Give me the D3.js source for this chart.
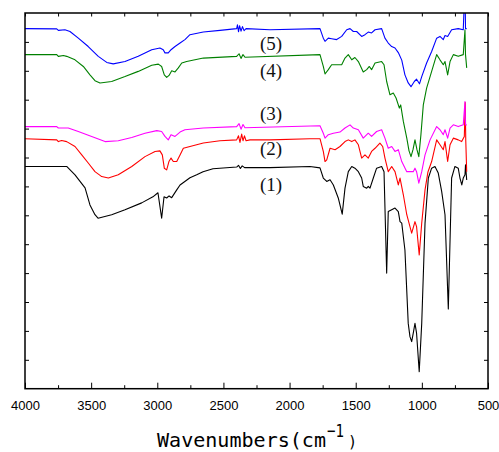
<!DOCTYPE html>
<html>
<head>
<meta charset="utf-8">
<script src="https://cdn.jsdelivr.net/npm/d3@7"></script>
<style>
  html, body { margin: 0; padding: 0; background: #fff; }
  svg { display: block; }
</style>
</head>
<body>
<svg id="chart" width="499" height="452"></svg>
<script>
// FTIR spectra: [wavenumber (cm-1), transmittance (a.u., offset per sample)]
const spectrum1 = [
  [4000,76.9],[3685,76.9],[3622,74.0],[3546,69.5],[3509,63.6],[3471,60.2],[3448,59.0],
  [3345,60.2],[3244,61.9],[3118,64.3],[3033,66.4],[2995,67.8],[2967,59.0],[2949,66.4],
  [2929,66.0],[2911,66.7],[2891,66.1],[2853,68.8],[2828,70.5],[2753,73.0],[2702,74.0],
  [2654,75.1],[2579,76.1],[2400,76.7],[2386,77.3],[2372,76.2],[2358,77.1],[2340,76.5],
  [2148,76.5],[1846,76.9],[1770,76.4],[1745,72.9],[1719,71.7],[1694,72.3],[1669,70.5],
  [1632,66.0],[1602,60.4],[1581,69.4],[1556,75.1],[1530,76.9],[1506,76.3],[1480,75.1],
  [1455,72.9],[1443,70.0],[1417,69.4],[1405,70.0],[1392,69.4],[1367,72.9],[1342,76.3],
  [1304,76.9],[1286,75.1],[1266,40.0],[1254,61.3],[1228,61.9],[1203,62.5],[1178,61.3],
  [1165,57.8],[1152,57.3],[1128,48.0],[1103,22.6],[1090,18.0],[1077,16.3],[1065,19.2],
  [1052,22.6],[1040,19.2],[1020,5.9],[1001,22.6],[976,57.3],[951,72.9],[926,76.3],
  [901,76.9],[876,74.6],[850,68.2],[825,60.2],[800,27.6],[775,72.9],[750,76.9],
  [725,76.3],[712,72.9],[698,70.5],[687,72.9],[674,74.0],[670,77.5],[661,72.2]
];
const spectrum2 = [
  [4000,86.5],[3760,86.1],[3748,85.5],[3723,85.9],[3685,85.5],[3622,83.8],[3571,80.9],
  [3522,78.1],[3471,75.1],[3420,73.4],[3370,72.9],[3295,74.0],[3193,76.9],[3093,80.3],
  [3017,82.1],[2980,82.3],[2962,80.9],[2947,76.3],[2929,75.7],[2912,78.6],[2896,79.8],
  [2879,78.6],[2853,78.6],[2828,80.9],[2803,83.2],[2753,83.8],[2652,85.0],[2526,85.8],
  [2400,86.1],[2386,87.5],[2375,85.2],[2362,88.1],[2352,85.8],[2341,87.5],[2329,85.8],
  [2299,86.1],[2148,86.1],[1846,86.5],[1770,86.5],[1745,82.1],[1732,78.6],[1719,79.2],
  [1694,83.2],[1656,82.7],[1619,83.8],[1581,85.5],[1556,86.1],[1530,85.5],[1506,86.1],
  [1480,84.4],[1455,79.8],[1430,80.9],[1405,79.8],[1380,82.1],[1354,83.2],[1317,85.0],
  [1296,83.8],[1279,79.8],[1254,75.1],[1228,76.9],[1203,75.1],[1178,70.5],[1165,72.9],
  [1140,67.1],[1114,60.2],[1077,53.8],[1052,57.8],[1040,56.1],[1020,46.3],[1001,57.3],
  [976,68.8],[954,75.0],[926,78.6],[888,86.1],[863,84.4],[838,82.7],[825,85.5],
  [805,78.6],[787,84.4],[762,86.7],[725,86.1],[699,85.5],[679,87.3],[672,99.0],
  [668,85.8],[661,75.1]
];
const spectrum3 = [
  [4000,90.7],[3760,90.7],[3748,90.2],[3673,90.2],[3597,89.0],[3496,87.3],[3395,85.5],
  [3295,85.8],[3193,86.9],[3093,88.4],[3004,89.3],[2967,89.0],[2942,87.3],[2917,86.1],
  [2896,87.9],[2866,87.3],[2828,88.8],[2791,89.6],[2652,90.2],[2400,90.7],[2382,91.7],
  [2367,89.8],[2352,91.4],[2337,90.3],[1770,91.0],[1745,88.4],[1732,86.7],[1707,87.9],
  [1669,88.4],[1619,88.8],[1581,90.2],[1543,91.3],[1518,90.2],[1480,89.6],[1443,86.7],
  [1405,88.4],[1380,87.3],[1342,89.0],[1304,89.6],[1279,86.7],[1254,83.2],[1228,83.8],
  [1203,82.1],[1178,82.7],[1152,78.6],[1114,75.1],[1090,75.1],[1065,75.1],[1052,76.3],
  [1040,75.1],[1023,71.1],[1001,75.1],[976,80.9],[938,86.1],[888,90.7],[863,89.6],
  [838,87.9],[825,89.6],[805,86.7],[787,90.2],[762,91.3],[725,90.7],[687,91.3],
  [674,99.4],[670,91.3],[661,91.3]
];
const spectrum4 = [
  [4000,115.6],[3760,115.6],[3748,115.0],[3710,115.3],[3685,115.0],[3622,113.8],[3559,111.5],
  [3509,108.6],[3471,106.6],[3433,105.8],[3345,106.3],[3244,108.0],[3144,109.8],[3042,111.9],
  [2992,112.3],[2967,111.5],[2947,108.6],[2929,107.7],[2911,108.4],[2891,110.0],[2866,109.6],
  [2841,111.0],[2815,112.7],[2778,113.2],[2652,114.4],[2400,115.0],[2382,115.9],[2367,114.3],
  [2352,115.6],[2337,114.7],[1770,115.6],[1745,111.5],[1732,108.9],[1707,110.4],[1682,112.1],
  [1606,112.1],[1581,114.4],[1556,115.6],[1530,113.8],[1506,114.6],[1480,113.2],[1443,109.6],
  [1417,110.4],[1397,111.5],[1380,110.4],[1354,112.7],[1304,113.2],[1286,112.1],[1266,106.3],
  [1241,101.7],[1216,102.3],[1195,100.6],[1170,97.1],[1160,98.2],[1140,92.5],[1114,86.7],
  [1097,82.3],[1082,80.3],[1067,82.7],[1052,86.1],[1037,82.7],[1023,80.3],[1007,87.9],
  [989,98.2],[964,104.0],[926,109.8],[888,115.6],[863,113.8],[838,112.1],[825,113.2],
  [805,108.6],[787,113.2],[762,115.6],[725,115.0],[687,115.6],[674,124.2],[670,115.6],
  [661,111.0]
];
const spectrum5 = [
  [4000,124.6],[3760,124.5],[3748,124.0],[3698,124.2],[3660,123.6],[3597,121.3],[3522,118.4],
  [3446,115.0],[3382,112.9],[3333,112.4],[3244,113.2],[3144,115.0],[3042,117.3],[2980,117.9],
  [2955,117.3],[2942,116.2],[2917,116.2],[2896,117.3],[2866,118.4],[2828,119.6],[2791,120.8],
  [2753,122.5],[2652,123.4],[2526,124.0],[2400,124.6],[2394,125.9],[2386,123.5],[2378,125.6],
  [2367,123.7],[2356,125.3],[2344,123.9],[2329,124.6],[2148,124.2],[1770,124.6],[1745,121.3],
  [1732,120.2],[1707,121.3],[1682,121.1],[1644,120.8],[1606,121.9],[1568,124.2],[1543,124.6],
  [1518,123.6],[1493,123.6],[1455,121.9],[1430,122.5],[1405,123.4],[1380,123.1],[1354,124.2],
  [1304,124.6],[1279,121.3],[1254,119.6],[1228,118.4],[1203,117.9],[1178,116.3],[1152,113.7],
  [1128,108.6],[1103,105.8],[1082,104.5],[1057,106.3],[1040,107.1],[1018,105.5],[1001,108.0],
  [964,112.7],[926,116.7],[888,121.3],[863,121.9],[838,120.8],[825,122.2],[805,121.9],
  [775,124.2],[725,124.6],[687,124.2],[674,140.0],[670,124.6],[661,124.6]
];

const sampleLabels = ["(1)", "(2)", "(3)", "(4)", "(5)"];
const sampleColors = ["#000000", "#ff0000", "#ff00ff", "#008000", "#0000ff"];
const labelLevels = [68.5, 80.9, 93.0, 107.9, 117.3];
const labelWavenumber = 2140;

const xMajorTicks = [4000, 3500, 3000, 2500, 2000, 1500, 1000, 500];
const xMinorTicks = [3750, 3250, 2750, 2250, 1750, 1250, 750];
const yTicks = [10, 20, 30, 40, 50, 60, 70, 80, 90, 100, 110, 120];

const spectra = [spectrum1, spectrum2, spectrum3, spectrum4, spectrum5];

const svg = d3.select("#chart");
const plotLeft = 25, plotRight = 488, plotTop = 13, plotBottom = 388.7;

const x = d3.scaleLinear().domain([4000, 500]).range([plotLeft, plotRight]);
const y = d3.scaleLinear().domain([0, 130]).range([plotBottom, plotTop]);

svg.append("defs").append("clipPath").attr("id", "plotClip")
  .append("rect").attr("x", plotLeft).attr("y", plotTop)
  .attr("width", plotRight - plotLeft).attr("height", plotBottom - plotTop);

// spectra
const line = d3.line().x(d => x(d[0])).y(d => y(d[1]));
const plot = svg.append("g").attr("clip-path", "url(#plotClip)");
spectra.forEach((s, i) => {
  plot.append("path")
    .datum(s)
    .attr("fill", "none")
    .attr("stroke", sampleColors[i])
    .attr("stroke-width", 1.1)
    .attr("stroke-linejoin", "round")
    .attr("d", line);
});

// sample labels
sampleLabels.forEach((t, i) => {
  svg.append("text")
    .attr("x", x(labelWavenumber))
    .attr("y", y(labelLevels[i]))
    .attr("text-anchor", "middle")
    .attr("font-family", "'Liberation Serif', 'Times New Roman', serif")
    .attr("font-size", 19)
    .attr("fill", "#111")
    .text(t);
});

// axes (ticks point inward)
const axisStyle = g => {
  g.select(".domain").remove();
  g.selectAll(".tick line").attr("stroke", "#000").attr("stroke-width", 1);
};
svg.append("g").attr("transform", `translate(0,${plotBottom})`)
  .call(d3.axisBottom(x).tickValues(xMajorTicks).tickSize(-6).tickPadding(12)
    .tickFormat(d3.format("d")))
  .call(axisStyle)
  .call(g => g.selectAll("text")
    .attr("font-family", "'Liberation Sans', Arial, sans-serif")
    .attr("font-size", 13).attr("fill", "#000"));
svg.append("g").attr("transform", `translate(0,${plotBottom})`)
  .call(d3.axisBottom(x).tickValues(xMinorTicks).tickSize(-3.5).tickFormat(""))
  .call(axisStyle);
svg.append("g").attr("transform", `translate(0,${plotTop})`)
  .call(d3.axisTop(x).tickValues(xMajorTicks.concat(xMinorTicks)).tickSize(-3.5).tickFormat(""))
  .call(axisStyle);
svg.append("g").attr("transform", `translate(${plotLeft},0)`)
  .call(d3.axisLeft(y).tickValues(yTicks).tickSize(-4).tickFormat(""))
  .call(axisStyle);
svg.append("g").attr("transform", `translate(${plotRight},0)`)
  .call(d3.axisRight(y).tickValues(yTicks).tickSize(-4).tickFormat(""))
  .call(axisStyle);

// frame
svg.append("rect")
  .attr("x", plotLeft).attr("y", plotTop)
  .attr("width", plotRight - plotLeft).attr("height", plotBottom - plotTop)
  .attr("fill", "none").attr("stroke", "#000").attr("stroke-width", 1.5);

// axis title
const title = svg.append("text")
  .attr("x", 157).attr("y", 446.5)
  .attr("font-family", "'DejaVu Sans Mono', monospace")
  .attr("font-size", 19)
  .attr("fill", "#000");
title.append("tspan").attr("textLength", 169).attr("lengthAdjust", "spacingAndGlyphs")
  .text("Wavenumbers(cm");
title.append("tspan").attr("x", 327).attr("dy", -10).attr("font-size", 18)
  .attr("textLength", 17).attr("lengthAdjust", "spacingAndGlyphs").text("−1");
title.append("tspan").attr("x", 348).attr("dy", 10).attr("font-size", 15).text(")");
</script>
</body>
</html>
